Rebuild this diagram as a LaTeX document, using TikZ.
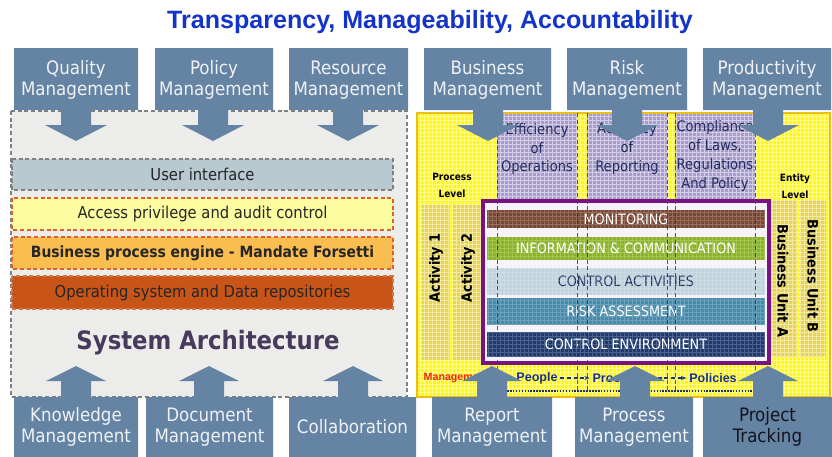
\documentclass[tikz,border=0pt]{standalone}
\usepackage{fontspec}
\setmainfont{DejaVu Sans Condensed}
\newfontfamily\arialfont{Liberation Sans}
\usetikzlibrary{arrows.meta}

\definecolor{titleblue}{RGB}{20,52,200}
\definecolor{calloutblue}{RGB}{101,131,163}
\definecolor{calltextcol}{RGB}{238,242,246}
\definecolor{darktext}{RGB}{20,20,30}
\definecolor{panelgray}{RGB}{236,236,234}
\definecolor{uiblue}{RGB}{184,201,208}
\definecolor{accessyellow}{RGB}{252,252,160}
\definecolor{engineorange}{RGB}{250,190,80}
\definecolor{osorange}{RGB}{200,84,24}
\definecolor{dashorange}{RGB}{225,95,40}
\definecolor{archpurple}{RGB}{72,58,92}
\definecolor{ryellow}{RGB}{255,248,20}
\definecolor{rgold}{RGB}{235,190,30}
\definecolor{mustard}{RGB}{232,212,80}
\definecolor{lavender}{RGB}{168,156,206}
\definecolor{colnavy}{RGB}{35,45,95}
\definecolor{framepurple}{RGB}{120,20,130}
\definecolor{monbrown}{RGB}{122,72,52}
\definecolor{infogreen}{RGB}{140,180,40}
\definecolor{ctrlblue}{RGB}{192,212,222}
\definecolor{riskblue}{RGB}{72,138,170}
\definecolor{envnavy}{RGB}{30,58,110}
\definecolor{flownavy}{RGB}{25,50,140}
\definecolor{mgmtred}{RGB}{230,40,20}

\begin{document}
\begin{tikzpicture}[x=0.75pt, y=-0.75pt,
    callout/.style={fill=calloutblue},
    calltext/.style={font=\fontsize{13.9}{15.5}\selectfont, align=center, inner sep=0pt},
    bartext/.style={font=\fontsize{12.3}{14}\selectfont, text=black!85},
    layertext/.style={font=\fontsize{10.7}{12}\selectfont, text=white},
    coltext/.style={font=\fontsize{10.9}{14.2}\selectfont, text=colnavy, align=center},
    side/.style={font=\bfseries\fontsize{10.7}{12}\selectfont},
    level/.style={font=\bfseries\fontsize{7.5}{12.75}\selectfont, align=center},
    flow/.style={font=\arialfont\bfseries\fontsize{9.4}{11}\selectfont, text=flownavy, inner sep=2pt},
    flowarrow/.style={densely dashed, flownavy, thick, -{Stealth[length=4pt]}}]

\useasboundingbox (0,0) rectangle (832,457);
\fill[white] (0,0) rectangle (832,457);

% title
\node[font=\arialfont\bfseries\fontsize{18.8}{22}\selectfont, text=titleblue] (title) at (430,22) {Transparency, Manageability, Accountability};

% system architecture block
\draw[gray, densely dashed, line width=1pt, fill=panelgray] (11,111) rectangle (407,397);
\draw[gray, densely dashed, line width=0.8pt, fill=uiblue] (12,159) rectangle node[bartext] (ui) {User interface} (393,190);
\draw[dashorange, densely dashed, line width=0.8pt, fill=accessyellow] (12,198) rectangle node[bartext] (access) {Access privilege and audit control} (393,230);
\draw[dashorange, densely dashed, line width=0.8pt, fill=engineorange] (12,237) rectangle node[bartext, font=\bfseries\fontsize{11.6}{14}\selectfont] (engine) {Business process engine - Mandate Forsetti} (393,269);
\draw[osorange!80!white, densely dashed, line width=0.8pt, fill=osorange] (12,276) rectangle node[bartext] (os) {Operating system and Data repositories} (393,309);
\node[font=\bfseries\fontsize{19}{22}\selectfont, text=archpurple] (arch) at (208,343) {System Architecture};

% control framework block
\fill[ryellow] (417,113) rectangle (830,397);
\fill[lavender] (497,113) rectangle (577,201);
\fill[lavender] (587,113) rectangle (667,201);
\fill[lavender] (675,113) rectangle (755,201);
\fill[mustard] (422,205) rectangle (450,360);
\fill[mustard] (453,205) rectangle (481,360);
\fill[mustard] (770,200) rectangle (797,357);
\fill[mustard] (800,200) rectangle (826,357);
\draw[white, opacity=0.5, line width=0.6pt] (417,397) grid[step=3pt] (830,113);
\draw[rgold, line width=1pt] (417,113) rectangle (830,397);

\fill[white!88!lavender] (483,201) rectangle (769,363);
\fill[monbrown] (487,210) rectangle node[layertext] (mon) {MONITORING} (765,228);
\fill[infogreen] (487,237) rectangle node[layertext] (info) {INFORMATION \& COMMUNICATION} (765,260);
\fill[ctrlblue] (487,268) rectangle node[layertext, text=colnavy] (ctrl) {CONTROL ACTIVITIES} (765,295);
\fill[riskblue] (487,298) rectangle node[layertext] (riskass) {RISK ASSESSMENT} (765,325);
\fill[envnavy] (487,332) rectangle node[layertext] (env) {CONTROL ENVIRONMENT} (765,357);
\draw[white, opacity=0.2, line width=0.5pt] (487,357) grid[step=3pt] (765,210);

\foreach \x in {497,577,587,667,675,755}
  \draw[colnavy, densely dashed, line width=0.7pt, opacity=0.8] (\x,113) -- (\x,392);
\draw[framepurple, line width=2.4pt] (483,201) rectangle (769,363);

\node[coltext] (eff) at (537,149) {Efficiency\\of\\Operations};
\node[coltext] (acc) at (627,149) {Accuracy\\of\\Reporting};
\node[coltext] (comp) at (715,156) {Compliance\\of Laws,\\Regulations\\And Policy};
\node[level] (plevel) at (452,185) {Process\\Level};
\node[level] (elevel) at (795,186) {Entity\\Level};

\node[side, rotate=90] (act1) at (436,268) {Activity 1};
\node[side, rotate=90] (act2) at (468,268) {Activity 2};
\node[side, rotate=-90] (unita) at (783,281) {Business Unit A};
\node[side, rotate=-90] (unitb) at (813,276) {Business Unit B};

\node[anchor=west, font=\arialfont\bfseries\fontsize{8}{10}\selectfont, text=mgmtred] (mgmt) at (419,378) {Management};
\node[flow] (people) at (537,378) {People};
\node[flow] (procflow) at (617,378) {Process};
\node[flow] (policies) at (713,378) {Policies};
\draw[flowarrow] (people) -- (procflow);
\draw[flowarrow] (procflow) -- (policies);
\draw[colnavy, densely dotted, line width=1.2pt] (507,391) -- (753,391);

% management callouts, top row pointing down
\foreach \l/\r/\t/\name/\txt/\col in {
    14/138/76/quality/{Quality\\Management}/calltextcol,
    155/273/213/policy/{Policy\\Management}/calltextcol,
    289/408/348/resource/{Resource\\Management}/calltextcol,
    424/551/488/business/{Business\\Management}/calltextcol,
    567/687/627/risk/{Risk\\Management}/calltextcol,
    703/831/768/productivity/{Productivity\\Management}/calltextcol} {
  \fill[callout] (\l,48) -- (\r,48) -- (\r,110) -- (\t+15,110) -- (\t+15,125) -- (\t+31,125)
    -- (\t,141) -- (\t-31,125) -- (\t-15,125) -- (\t-15,110) -- (\l,110) -- cycle;
  \node[calltext, text=\col] (\name) at ({(\l+\r)/2},80) {\txt};
}

% bottom row pointing up
\foreach \l/\r/\t/\name/\txt/\col in {
    14/138/76/knowledge/{Knowledge\\Management}/calltextcol,
    146/273/209/document/{Document\\Management}/calltextcol,
    289/416/353/collab/{Collaboration}/calltextcol,
    432/552/492/report/{Report\\Management}/calltextcol,
    575/693/635/process/{Process\\Management}/calltextcol,
    703/832/768/project/{Project\\Tracking}/darktext} {
  \fill[callout] (\l,457) -- (\l,397) -- (\t-15,397) -- (\t-15,381) -- (\t-30,381) -- (\t,366)
    -- (\t+30,381) -- (\t+15,381) -- (\t+15,397) -- (\r,397) -- (\r,457) -- cycle;
  \node[calltext, text=\col] (\name) at ({(\l+\r)/2},427) {\txt};
}
\end{tikzpicture}
\end{document}
